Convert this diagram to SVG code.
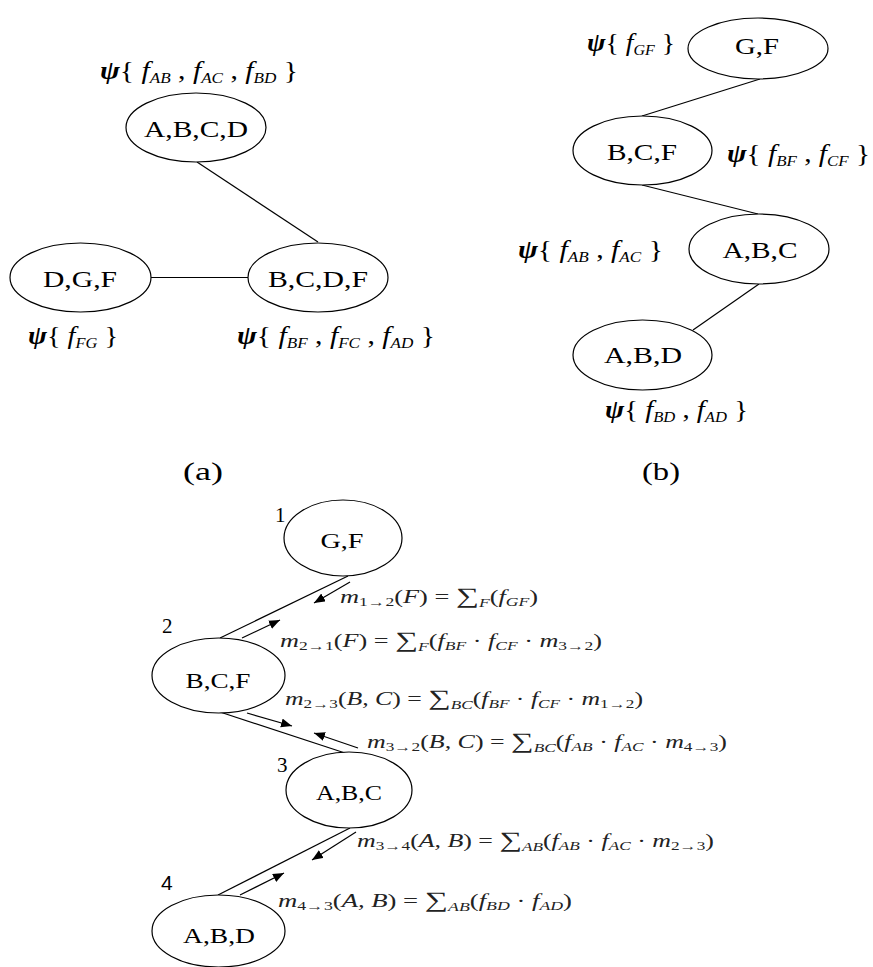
<svg xmlns="http://www.w3.org/2000/svg" width="873" height="967" viewBox="0 0 873 967">
<defs>
<marker id="ah" markerUnits="userSpaceOnUse" markerWidth="12" markerHeight="10" refX="11" refY="4.5" orient="auto"><path d="M0,0 L11,4.5 L0,9 z" fill="#000"/></marker>
<style>
.node ellipse{fill:#fff;stroke:#000;stroke-width:1.2}
.nt{font-family:"Liberation Serif","Times New Roman",serif;font-size:24px;text-anchor:middle;fill:#000}
.nt2{font-size:20px}
.edge{stroke:#000;stroke-width:1.2;fill:none}
.msg{stroke:#000;stroke-width:1.2;fill:none;marker-end:url(#ah)}
.psi{font-family:"Liberation Serif","Times New Roman",serif;font-size:26px;fill:#000}
.bi{font-weight:bold;font-style:italic}
.i{font-style:italic}
.s{font-size:15px;font-style:italic}
.math{font-family:"Liberation Serif","DejaVu Serif",serif;font-size:18px;fill:#222}
.ms{font-size:12px}
.sum{font-size:22px}
.num{font-family:"Liberation Serif","Times New Roman",serif;font-size:21px;fill:#000}
.numS{font-family:"Liberation Sans",Arial,sans-serif;font-size:21px;fill:#000}
.cap{font-family:"Liberation Serif","Times New Roman",serif;font-size:26px;fill:#000}
</style>
</defs>
<rect width="873" height="967" fill="#fff"/>

<g id="connectors">
<line class="edge" x1="197" y1="162" x2="318" y2="242"/>
<line class="edge" x1="151" y1="277.5" x2="248" y2="277.5"/>
<line class="edge" x1="760" y1="79" x2="642" y2="116"/>
<line class="edge" x1="642" y1="185" x2="758" y2="214"/>
<line class="edge" x1="759" y1="284" x2="693" y2="330"/>
<line class="edge" x1="348" y1="576" x2="220" y2="638"/>
<line class="msg" x1="350" y1="582" x2="314" y2="603"/>
<line class="msg" x1="242" y1="638" x2="280" y2="620"/>
<line class="edge" x1="220" y1="712" x2="345" y2="753"/>
<line class="msg" x1="247" y1="713" x2="292" y2="726"/>
<line class="msg" x1="358" y1="748" x2="314" y2="733"/>
<line class="edge" x1="350" y1="828" x2="218" y2="895"/>
<line class="msg" x1="356" y1="832" x2="312" y2="860"/>
<line class="msg" x1="240" y1="895" x2="284" y2="873"/>
</g>

<g id="a-ABCD" class="node"><ellipse cx="196" cy="127.5" rx="70" ry="34.5"/><text class="nt" x="196" y="137" textLength="104" lengthAdjust="spacingAndGlyphs">A,B,C,D</text></g>
<g id="a-DGF" class="node"><ellipse cx="80.5" cy="277.5" rx="70.5" ry="34.5"/><text class="nt" x="80" y="287" textLength="74" lengthAdjust="spacingAndGlyphs">D,G,F</text></g>
<g id="a-BCDF" class="node"><ellipse cx="318" cy="277.5" rx="70" ry="34.5"/><text class="nt" x="318" y="287" textLength="100" lengthAdjust="spacingAndGlyphs">B,C,D,F</text></g>

<g id="b-GF" class="node"><ellipse cx="758" cy="48.5" rx="70" ry="30.5"/><text class="nt" x="757" y="54" textLength="44" lengthAdjust="spacingAndGlyphs">G,F</text></g>
<g id="b-BCF" class="node"><ellipse cx="642.5" cy="150.5" rx="69.5" ry="34.5"/><text class="nt" x="642" y="160" textLength="70" lengthAdjust="spacingAndGlyphs">B,C,F</text></g>
<g id="b-ABC" class="node"><ellipse cx="759" cy="249" rx="70" ry="35"/><text class="nt" x="760" y="258" textLength="75" lengthAdjust="spacingAndGlyphs">A,B,C</text></g>
<g id="b-ABD" class="node"><ellipse cx="642.5" cy="355" rx="69.5" ry="35"/><text class="nt" x="643" y="363" textLength="78" lengthAdjust="spacingAndGlyphs">A,B,D</text></g>

<g id="c-GF" class="node"><ellipse cx="343" cy="538" rx="59" ry="38"/><text class="nt nt2" x="342" y="548" textLength="43" lengthAdjust="spacingAndGlyphs">G,F</text></g>
<g id="c-BCF" class="node"><ellipse cx="218.5" cy="675.5" rx="66.5" ry="37.5"/><text class="nt nt2" x="218" y="688" textLength="65" lengthAdjust="spacingAndGlyphs">B,C,F</text></g>
<g id="c-ABC" class="node"><ellipse cx="349" cy="790" rx="63" ry="38"/><text class="nt nt2" x="349" y="800" textLength="66" lengthAdjust="spacingAndGlyphs">A,B,C</text></g>
<g id="c-ABD" class="node"><ellipse cx="218.5" cy="931" rx="66.5" ry="36"/><text class="nt nt2" x="219" y="943" textLength="72" lengthAdjust="spacingAndGlyphs">A,B,D</text></g>

<g id="labels-a">
<text class="psi" x="100" y="79" textLength="198" lengthAdjust="spacingAndGlyphs"><tspan class="bi">ψ</tspan><tspan>{ </tspan><tspan class="i">f</tspan><tspan class="s" dy="4">AB</tspan><tspan dy="-4"> , </tspan><tspan class="i">f</tspan><tspan class="s" dy="4">AC</tspan><tspan dy="-4"> , </tspan><tspan class="i">f</tspan><tspan class="s" dy="4">BD</tspan><tspan dy="-4"> }</tspan></text>
<text class="psi" x="28" y="344" textLength="90" lengthAdjust="spacingAndGlyphs"><tspan class="bi">ψ</tspan><tspan>{ </tspan><tspan class="i">f</tspan><tspan class="s" dy="4">FG</tspan><tspan dy="-4"> }</tspan></text>
<text class="psi" x="237" y="344" textLength="198" lengthAdjust="spacingAndGlyphs"><tspan class="bi">ψ</tspan><tspan>{ </tspan><tspan class="i">f</tspan><tspan class="s" dy="4">BF</tspan><tspan dy="-4"> , </tspan><tspan class="i">f</tspan><tspan class="s" dy="4">FC</tspan><tspan dy="-4"> , </tspan><tspan class="i">f</tspan><tspan class="s" dy="4">AD</tspan><tspan dy="-4"> }</tspan></text>
</g>

<g id="labels-b">
<text class="psi" x="587" y="51" textLength="88" lengthAdjust="spacingAndGlyphs"><tspan class="bi">ψ</tspan><tspan>{ </tspan><tspan class="i">f</tspan><tspan class="s" dy="4">GF</tspan><tspan dy="-4"> }</tspan></text>
<text class="psi" x="727" y="162" textLength="143" lengthAdjust="spacingAndGlyphs"><tspan class="bi">ψ</tspan><tspan>{ </tspan><tspan class="i">f</tspan><tspan class="s" dy="4">BF</tspan><tspan dy="-4"> , </tspan><tspan class="i">f</tspan><tspan class="s" dy="4">CF</tspan><tspan dy="-4"> }</tspan></text>
<text class="psi" x="518" y="258" textLength="145" lengthAdjust="spacingAndGlyphs"><tspan class="bi">ψ</tspan><tspan>{ </tspan><tspan class="i">f</tspan><tspan class="s" dy="4">AB</tspan><tspan dy="-4"> , </tspan><tspan class="i">f</tspan><tspan class="s" dy="4">AC</tspan><tspan dy="-4"> }</tspan></text>
<text class="psi" x="605" y="418" textLength="143" lengthAdjust="spacingAndGlyphs"><tspan class="bi">ψ</tspan><tspan>{ </tspan><tspan class="i">f</tspan><tspan class="s" dy="4">BD</tspan><tspan dy="-4"> , </tspan><tspan class="i">f</tspan><tspan class="s" dy="4">AD</tspan><tspan dy="-4"> }</tspan></text>
</g>

<text class="cap" x="183" y="480" textLength="40" lengthAdjust="spacingAndGlyphs">(a)</text>
<text class="cap" x="642" y="480" textLength="38" lengthAdjust="spacingAndGlyphs">(b)</text>

<text class="num" x="275" y="522">1</text>
<text class="num" x="162" y="633">2</text>
<text class="num" x="277" y="772">3</text>
<text class="numS" x="161" y="890">4</text>

<g id="messages">
<text class="math" x="340" y="603" textLength="198" lengthAdjust="spacingAndGlyphs"><tspan class="i">m</tspan><tspan class="ms" dy="3">1→2</tspan><tspan dy="-3">(</tspan><tspan class="i">F</tspan><tspan>) = </tspan><tspan class="sum">∑</tspan><tspan class="ms i" dy="4">F</tspan><tspan dy="-4">(</tspan><tspan class="i">f</tspan><tspan class="ms i" dy="3">GF</tspan><tspan dy="-3">)</tspan></text>
<text class="math" x="280" y="647" textLength="322" lengthAdjust="spacingAndGlyphs"><tspan class="i">m</tspan><tspan class="ms" dy="3">2→1</tspan><tspan dy="-3">(</tspan><tspan class="i">F</tspan><tspan>) = </tspan><tspan class="sum">∑</tspan><tspan class="ms i" dy="4">F</tspan><tspan dy="-4">(</tspan><tspan class="i">f</tspan><tspan class="ms i" dy="3">BF</tspan><tspan dy="-3"> · </tspan><tspan class="i">f</tspan><tspan class="ms i" dy="3">CF</tspan><tspan dy="-3"> · </tspan><tspan class="i">m</tspan><tspan class="ms" dy="3">3→2</tspan><tspan dy="-3">)</tspan></text>
<text class="math" x="285" y="705" textLength="358" lengthAdjust="spacingAndGlyphs"><tspan class="i">m</tspan><tspan class="ms" dy="3">2→3</tspan><tspan dy="-3">(</tspan><tspan class="i">B, C</tspan><tspan>) = </tspan><tspan class="sum">∑</tspan><tspan class="ms i" dy="4">BC</tspan><tspan dy="-4">(</tspan><tspan class="i">f</tspan><tspan class="ms i" dy="3">BF</tspan><tspan dy="-3"> · </tspan><tspan class="i">f</tspan><tspan class="ms i" dy="3">CF</tspan><tspan dy="-3"> · </tspan><tspan class="i">m</tspan><tspan class="ms" dy="3">1→2</tspan><tspan dy="-3">)</tspan></text>
<text class="math" x="367" y="748" textLength="360" lengthAdjust="spacingAndGlyphs"><tspan class="i">m</tspan><tspan class="ms" dy="3">3→2</tspan><tspan dy="-3">(</tspan><tspan class="i">B, C</tspan><tspan>) = </tspan><tspan class="sum">∑</tspan><tspan class="ms i" dy="4">BC</tspan><tspan dy="-4">(</tspan><tspan class="i">f</tspan><tspan class="ms i" dy="3">AB</tspan><tspan dy="-3"> · </tspan><tspan class="i">f</tspan><tspan class="ms i" dy="3">AC</tspan><tspan dy="-3"> · </tspan><tspan class="i">m</tspan><tspan class="ms" dy="3">4→3</tspan><tspan dy="-3">)</tspan></text>
<text class="math" x="357" y="847" textLength="357" lengthAdjust="spacingAndGlyphs"><tspan class="i">m</tspan><tspan class="ms" dy="3">3→4</tspan><tspan dy="-3">(</tspan><tspan class="i">A, B</tspan><tspan>) = </tspan><tspan class="sum">∑</tspan><tspan class="ms i" dy="4">AB</tspan><tspan dy="-4">(</tspan><tspan class="i">f</tspan><tspan class="ms i" dy="3">AB</tspan><tspan dy="-3"> · </tspan><tspan class="i">f</tspan><tspan class="ms i" dy="3">AC</tspan><tspan dy="-3"> · </tspan><tspan class="i">m</tspan><tspan class="ms" dy="3">2→3</tspan><tspan dy="-3">)</tspan></text>
<text class="math" x="278" y="907" textLength="294" lengthAdjust="spacingAndGlyphs"><tspan class="i">m</tspan><tspan class="ms" dy="3">4→3</tspan><tspan dy="-3">(</tspan><tspan class="i">A, B</tspan><tspan>) = </tspan><tspan class="sum">∑</tspan><tspan class="ms i" dy="4">AB</tspan><tspan dy="-4">(</tspan><tspan class="i">f</tspan><tspan class="ms i" dy="3">BD</tspan><tspan dy="-3"> · </tspan><tspan class="i">f</tspan><tspan class="ms i" dy="3">AD</tspan><tspan dy="-3">)</tspan></text>
</g>
</svg>
